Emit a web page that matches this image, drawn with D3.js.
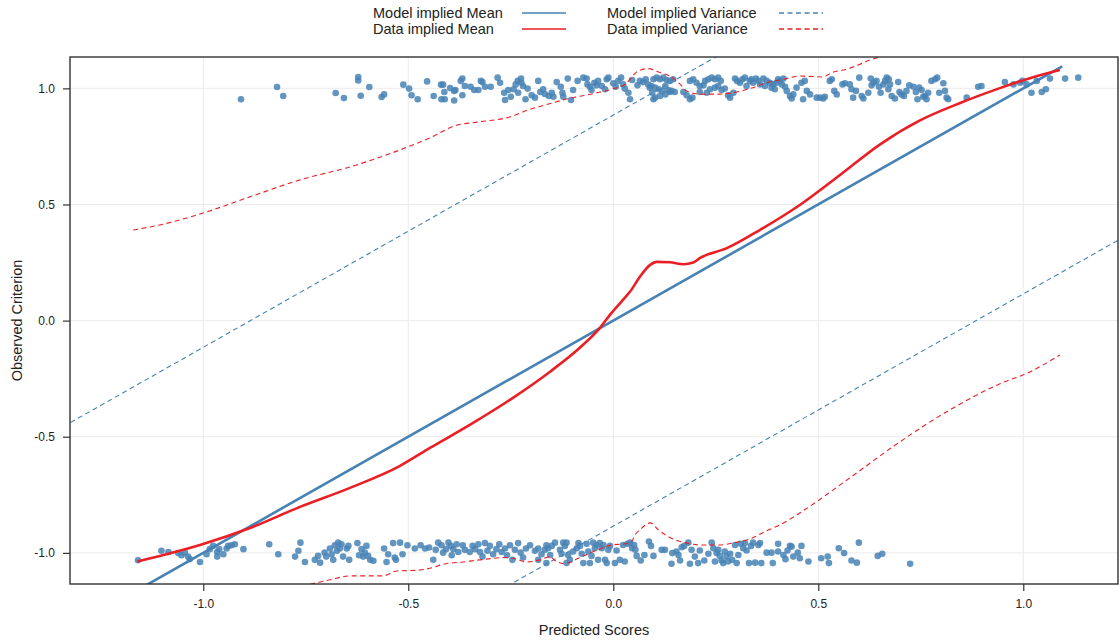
<!DOCTYPE html>
<html>
<head>
<meta charset="utf-8">
<script src="https://cdn.jsdelivr.net/npm/d3@7"></script>
<style>
  html, body { margin: 0; padding: 0; background: #fff; }
  svg { display: block; font-family: "Liberation Sans", Arial, sans-serif; }
</style>
</head>
<body>
<svg id="chart" width="1119" height="640"></svg>
<script>
// ---- observations (predicted score, observed criterion) ----
const upperPred = [-0.908,-0.820,-0.805,-0.677,-0.657,-0.622,-0.622,-0.616,-0.595,-0.565,-0.559,-0.512,-0.498,-0.492,-0.477,-0.454,-0.438,-0.420,-0.415,-0.412,-0.419,-0.411,-0.398,-0.388,-0.385,-0.388,-0.368,-0.372,-0.368,-0.362,-0.348,-0.339,-0.329,-0.323,-0.319,-0.313,-0.299,-0.282,-0.276,-0.266,-0.264,-0.256,-0.250,-0.243,-0.238,-0.233,-0.225,-0.224,-0.220,-0.232,-0.214,-0.209,-0.199,-0.191,-0.183,-0.178,-0.171,-0.167,-0.157,-0.150,-0.146,-0.138,-0.128,-0.124,-0.122,-0.111,-0.103,-0.098,-0.087,-0.073,-0.065,-0.063,-0.057,-0.053,-0.046,-0.041,-0.037,-0.028,-0.020,-0.016,-0.012,0.000,0.006,0.012,0.019,0.024,0.028,0.037,0.041,0.046,0.059,0.065,0.073,0.079,0.085,0.089,0.095,0.098,
  0.098,0.106,0.114,0.122,0.130,0.138,0.146,0.093,0.102,0.111,0.119,0.127,0.134,0.142,0.150,0.102,0.114,0.127,0.138,0.171,0.179,0.187,0.193,0.187,0.195,0.203,0.211,0.220,0.224,0.232,0.240,0.248,0.256,0.262,0.211,0.228,0.236,0.248,0.256,0.264,0.272,0.280,0.285,0.293,0.297,0.302,0.309,0.315,0.321,0.325,0.333,0.337,0.341,0.348,0.354,0.358,0.366,0.370,0.374,0.382,0.386,0.390,0.394,0.398,0.402,0.407,0.411,0.415,0.419,0.423,0.431,0.435,0.439,0.447,0.459,0.467,0.472,0.480,0.463,0.496,0.504,0.512,0.516,0.528,0.533,0.539,0.545,0.559,0.565,0.577,0.581,0.585,0.592,0.600,0.606,0.610,0.622,0.628,0.630,0.635,0.642,0.648,0.652,0.659,0.663,0.667,0.671,0.675,0.672,0.679,0.687,0.695,0.698,0.703,0.709,0.715,0.722,0.732,0.738,0.742,0.746,0.752,0.756,0.760,0.764,0.768,0.776,0.785,0.790,0.795,0.805,0.809,0.813,0.817,0.862,0.890,0.898,0.955,0.976,0.992,0.998,1.008,1.020,1.033,1.045,1.055,1.065,1.102,1.134];
const upperObs = [0.953,1.006,0.967,0.980,0.958,1.049,1.034,0.968,1.006,0.963,0.974,1.016,0.999,0.970,0.953,1.030,0.967,1.016,1.016,0.984,0.953,0.953,1.001,0.989,0.993,0.948,1.042,1.032,0.970,1.010,1.007,0.993,0.993,1.032,1.027,1.007,1.007,1.046,1.024,0.981,0.950,0.993,0.964,0.996,1.017,1.032,1.042,1.024,1.010,0.981,0.953,0.999,0.970,0.960,1.032,0.984,0.996,0.976,0.967,0.981,0.964,1.027,1.007,0.981,0.964,1.042,0.950,0.993,1.032,1.046,1.042,1.017,1.007,0.993,1.024,1.013,1.032,1.010,0.996,1.039,1.046,1.022,1.007,1.032,1.046,1.017,0.999,0.981,0.953,1.036,1.013,1.032,1.027,1.039,1.017,1.003,0.981,0.953,
  1.039,1.046,1.039,1.046,1.036,1.032,1.039,1.010,1.003,0.996,0.989,1.010,0.993,0.989,0.984,0.960,0.967,0.974,0.984,0.984,0.970,0.953,0.960,1.032,1.039,1.024,1.010,1.013,1.032,1.039,1.046,1.039,1.046,1.032,0.984,0.981,0.996,1.003,1.010,0.993,0.999,0.970,0.960,0.981,1.042,1.032,1.024,1.039,1.046,1.010,1.032,1.039,1.024,1.042,1.032,1.017,1.042,1.010,1.032,1.024,1.003,1.017,0.996,1.024,1.039,1.032,1.017,1.042,1.007,0.989,0.967,0.956,0.974,1.003,1.024,1.032,0.989,0.974,0.953,0.960,0.960,0.956,0.964,1.032,1.039,0.989,0.974,1.017,1.022,1.017,0.996,0.960,0.989,1.046,0.967,0.956,0.981,1.042,1.013,1.024,1.032,1.007,0.981,1.017,1.032,1.046,0.996,1.017,1.039,0.967,0.956,1.027,0.984,0.974,0.967,0.989,1.013,1.007,0.984,0.953,1.003,0.993,0.964,0.967,0.953,0.981,1.032,1.039,1.046,0.981,1.022,0.989,0.960,0.953,0.960,1.007,1.010,1.027,1.017,1.024,1.032,1.017,0.981,1.032,0.984,0.996,1.042,1.042,1.046];

const lowerPred = [-1.159,-1.102,-1.085,-1.061,-1.053,-1.045,-1.037,-1.033,-1.008,-0.992,-0.984,-0.976,-0.966,-0.961,-0.966,-0.951,-0.943,-0.939,-0.931,-0.923,-0.902,-0.839,-0.817,-0.776,-0.768,-0.763,-0.752,-0.728,-0.720,-0.715,-0.704,-0.700,-0.691,-0.687,-0.683,-0.679,-0.674,-0.671,-0.667,-0.663,-0.659,-0.650,-0.646,-0.644,-0.624,-0.620,-0.614,-0.610,-0.606,-0.602,-0.598,-0.593,-0.585,-0.559,-0.553,-0.549,-0.537,-0.533,-0.530,-0.520,-0.514,-0.502,-0.484,-0.470,-0.459,-0.449,-0.439,-0.433,-0.427,-0.419,-0.415,-0.408,-0.402,-0.396,-0.394,-0.390,-0.382,-0.378,-0.367,-0.362,-0.350,-0.343,-0.337,-0.329,-0.325,-0.319,-0.313,-0.307,-0.301,-0.293,-0.285,-0.278,-0.272,-0.264,-0.259,-0.252,-0.246,-0.240,-0.232,-0.226,-0.220,-0.213,-0.203,-0.191,-0.183,-0.175,-0.167,-0.183,-0.163,
  -0.159,-0.150,-0.142,-0.154,-0.163,-0.130,-0.122,-0.118,-0.114,-0.126,-0.110,-0.106,-0.114,-0.098,-0.089,-0.085,-0.081,-0.077,-0.073,-0.065,-0.061,-0.057,-0.053,-0.049,-0.045,-0.041,-0.037,-0.033,-0.028,-0.024,-0.020,-0.016,-0.012,-0.008,0.004,0.008,0.016,0.024,0.028,0.035,0.041,0.046,0.051,0.054,0.057,0.067,0.076,0.087,0.092,0.098,0.118,0.126,0.142,0.144,0.154,0.159,0.163,0.167,0.173,0.183,0.187,0.191,0.199,0.207,0.211,0.222,0.232,0.240,0.244,0.248,0.252,0.256,0.260,0.264,0.268,0.272,0.276,0.280,0.285,0.290,0.297,0.301,0.305,0.311,0.317,0.321,0.325,0.331,0.336,0.341,0.346,0.354,0.358,0.361,0.374,0.386,0.389,0.402,0.402,0.415,0.420,0.425,0.431,0.435,0.439,0.450,0.455,0.459,0.476,0.507,0.523,0.526,0.550,0.563,0.581,0.594,0.599,0.645,0.656,0.724];
const lowerObs = [-1.032,-0.991,-0.996,-1.001,-1.010,-0.999,-1.016,-1.027,-1.039,-1.006,-0.984,-0.970,-0.996,-0.984,-1.016,-1.006,-0.981,-0.970,-0.967,-0.963,-0.984,-0.963,-1.006,-1.016,-0.991,-0.956,-1.039,-1.030,-1.013,-1.042,-0.999,-1.016,-0.981,-1.006,-1.030,-0.967,-0.991,-0.956,-0.981,-0.963,-1.016,-0.981,-0.970,-1.030,-0.958,-1.010,-0.984,-1.016,-0.999,-0.970,-1.013,-1.030,-1.034,-0.981,-1.039,-1.006,-0.958,-1.020,-1.030,-0.956,-1.006,-0.967,-0.981,-0.967,-0.981,-0.977,-1.030,-0.987,-0.956,-0.967,-0.999,-0.984,-0.956,-0.970,-1.010,-0.984,-0.963,-0.996,-0.967,-0.987,-0.996,-0.970,-0.984,-0.963,-0.996,-1.016,-0.958,-0.991,-0.970,-1.006,-0.984,-0.963,-0.996,-0.981,-1.010,-0.967,-1.030,-0.987,-0.958,-0.999,-1.020,-0.981,-0.967,-0.991,-0.981,-1.006,-0.987,-1.030,-0.967,
  -0.980,-0.970,-0.956,-1.009,-1.044,-0.987,-0.956,-0.970,-0.956,-1.004,-1.009,-1.030,-1.044,-0.994,-0.980,-0.958,-0.970,-1.004,-1.044,-0.961,-0.994,-1.044,-1.013,-0.956,-0.980,-0.966,-1.030,-0.958,-0.980,-0.966,-1.030,-1.044,-0.987,-0.970,-1.044,-0.990,-1.030,-0.966,-1.037,-0.961,-0.956,-0.980,-0.966,-0.987,-1.013,-1.033,-1.009,-0.951,-0.970,-1.013,-0.987,-0.987,-1.047,-1.001,-0.994,-1.009,-1.033,-0.976,-0.970,-0.956,-1.047,-0.987,-1.016,-1.044,-0.990,-1.033,-1.004,-0.956,-0.980,-1.037,-1.001,-0.987,-1.013,-1.033,-1.044,-0.994,-1.016,-1.037,-1.004,-1.030,-0.966,-1.044,-1.009,-0.961,-0.980,-0.958,-0.990,-1.044,-0.970,-0.956,-1.042,-0.966,-0.958,-1.044,-0.999,-0.999,-1.044,-0.961,-0.994,-1.009,-1.027,-0.990,-0.970,-0.973,-1.016,-0.999,-1.023,-0.970,-1.037,-1.023,-1.016,-1.044,-0.980,-1.001,-1.033,-1.042,-0.956,-1.013,-1.004,-1.047];

// ---- model implied mean and variance band ----
const modelPred  = [-1.16, 1.095];
const modelMean  = [-1.16, 1.095];
const bandPred   = [-1.45, 1.35];
const modelUpper = [-0.565, 2.235];
const modelLower = [-2.335, 0.465];

// ---- data implied (smoothed) mean ----
const dataMeanPred = [-1.161,-1.106,-1.008,-0.886,-0.764,-0.642,-0.520,-0.447,-0.350,-0.252,-0.155,-0.081,-0.032,-0.008,0.020,0.041,0.065,0.090,0.106,0.138,0.171,0.195,0.211,0.277,0.358,0.455,0.553,0.650,0.748,0.846,0.943,1.016,1.089];
const dataMean     = [-1.037,-1.013,-0.966,-0.893,-0.802,-0.720,-0.625,-0.548,-0.449,-0.341,-0.221,-0.116,-0.030,0.025,0.082,0.125,0.189,0.240,0.253,0.251,0.243,0.250,0.269,0.312,0.391,0.498,0.627,0.758,0.862,0.937,1.001,1.044,1.079];

// ---- data implied variance band ----
const dataUpperPred = [-1.171,-1.106,-1.008,-0.886,-0.764,-0.642,-0.520,-0.447,-0.386,-0.325,-0.252,-0.203,-0.167,-0.094,-0.069,-0.045,-0.004,0.029,0.061,0.085,0.114,0.138,0.163,0.179,0.211,0.252,0.293,0.333,0.374,0.415,0.455,0.512,0.533,0.561,0.585,0.626,0.680];
const dataUpper     = [0.390,0.412,0.459,0.533,0.606,0.662,0.735,0.787,0.839,0.856,0.877,0.910,0.928,0.962,0.970,0.979,0.996,1.018,1.075,1.085,1.068,1.053,1.018,0.989,0.975,0.975,0.981,0.999,1.024,1.039,1.053,1.049,1.068,1.079,1.092,1.122,1.150];
const dataLowerPred = [-0.780,-0.735,-0.691,-0.642,-0.562,-0.528,-0.480,-0.439,-0.415,-0.366,-0.325,-0.260,-0.236,-0.211,-0.179,-0.154,-0.142,-0.118,-0.093,-0.061,-0.028,-0.004,0.029,0.045,0.053,0.065,0.090,0.110,0.134,0.175,0.216,0.256,0.297,0.338,0.370,0.407,0.455,0.577,0.699,0.821,0.943,1.016,1.089];
const dataLower     = [-1.150,-1.133,-1.116,-1.099,-1.099,-1.078,-1.075,-1.063,-1.049,-1.039,-1.030,-1.020,-1.027,-1.039,-1.030,-1.016,-1.033,-1.047,-1.030,-1.004,-0.980,-0.966,-0.961,-0.951,-0.923,-0.901,-0.871,-0.901,-0.930,-0.956,-0.966,-0.966,-0.956,-0.937,-0.908,-0.879,-0.828,-0.677,-0.522,-0.384,-0.272,-0.221,-0.148];

// ---- axes ----
const xTicks = [-1.0, -0.5, 0.0, 0.5, 1.0];
const yTicks = [-1.0, -0.5, 0.0, 0.5, 1.0];

const blue = "#4682b4";
const red = "#ea1f25";

const svg = d3.select("#chart");
const panel = { left: 70, right: 1118, top: 57, bottom: 584 };

const x = d3.scaleLinear().domain([-1.325, 1.231]).range([panel.left, panel.right]);
const y = d3.scaleLinear().domain([-1.134, 1.135]).range([panel.bottom, panel.top]);

svg.append("defs").append("clipPath").attr("id", "panel-clip")
  .append("rect")
  .attr("x", panel.left).attr("y", panel.top)
  .attr("width", panel.right - panel.left).attr("height", panel.bottom - panel.top);

// grid
const grid = svg.append("g").attr("stroke", "#ebebeb").attr("stroke-width", 1);
grid.selectAll("line.vx").data(xTicks).join("line")
  .attr("x1", d => x(d)).attr("x2", d => x(d))
  .attr("y1", panel.top).attr("y2", panel.bottom);
grid.selectAll("line.hy").data(yTicks).join("line")
  .attr("y1", d => y(d)).attr("y2", d => y(d))
  .attr("x1", panel.left).attr("x2", panel.right);

const plot = svg.append("g").attr("clip-path", "url(#panel-clip)");

// observations
const pts = upperPred.map((p, i) => [p, upperObs[i]])
  .concat(lowerPred.map((p, i) => [p, lowerObs[i]]));
plot.append("g").selectAll("circle").data(pts).join("circle")
  .attr("cx", d => x(d[0])).attr("cy", d => y(d[1]))
  .attr("r", 3.3)
  .attr("fill", blue).attr("fill-opacity", 0.85);

const zip = (a, b) => a.map((v, i) => [v, b[i]]);

function drawLine(data, color, width, dash, curve) {
  const gen = d3.line().x(d => x(d[0])).y(d => y(d[1])).curve(curve || d3.curveLinear);
  plot.append("path").datum(data)
    .attr("d", gen)
    .attr("fill", "none")
    .style("stroke", color)
    .attr("stroke-width", width)
    .attr("stroke-dasharray", dash || null)
    .attr("stroke-linejoin", "round");
}

drawLine(zip(bandPred, modelUpper), blue, 1.1, "5,3.5");
drawLine(zip(bandPred, modelLower), blue, 1.1, "5,3.5");
drawLine(zip(dataUpperPred, dataUpper), red, 1.1, "5,3.5", d3.curveMonotoneX);
drawLine(zip(dataLowerPred, dataLower), red, 1.1, "5,3.5", d3.curveMonotoneX);
drawLine(zip(modelPred, modelMean), blue, 2.6);
drawLine(zip(dataMeanPred, dataMean), red, 2.6, null, d3.curveMonotoneX);

// panel border
svg.append("rect")
  .attr("x", panel.left).attr("y", panel.top)
  .attr("width", panel.right - panel.left).attr("height", panel.bottom - panel.top)
  .attr("fill", "none").attr("stroke", "#333").attr("stroke-width", 1.4);

// axes
const xAxis = svg.append("g").attr("transform", `translate(0,${panel.bottom})`)
  .call(d3.axisBottom(x).tickValues(xTicks).tickSize(7).tickPadding(8));
const yAxis = svg.append("g").attr("transform", `translate(${panel.left},0)`)
  .call(d3.axisLeft(y).tickValues(yTicks).tickSize(7).tickPadding(8));
[xAxis, yAxis].forEach(g => {
  g.select(".domain").remove();
  g.selectAll(".tick line").attr("stroke", "#333").attr("stroke-width", 1.2);
  g.selectAll(".tick text").attr("fill", "#222").style("font-size", "12px")
    .style("font-family", "'Liberation Sans', Arial, sans-serif")
    .text(d => d3.format(".1f")(d).replace("\u2212", "-"));
});

// axis titles
svg.append("text")
  .attr("x", (panel.left + panel.right) / 2).attr("y", 635)
  .attr("text-anchor", "middle").attr("fill", "#222")
  .style("font-size", "14.5px")
  .text("Predicted Scores");
svg.append("text")
  .attr("transform", `translate(22,${(panel.top + panel.bottom) / 2}) rotate(-90)`)
  .attr("text-anchor", "middle").attr("fill", "#222")
  .style("font-size", "14.5px")
  .text("Observed Criterion");

// legend
const legendItems = [
  { label: "Model implied Mean", color: blue, dash: null, tx: 373, lx: 522, row: 0 },
  { label: "Data implied Mean", color: red, dash: null, tx: 373, lx: 522, row: 1 },
  { label: "Model implied Variance", color: blue, dash: "5,3.5", tx: 607, lx: 779, row: 0 },
  { label: "Data implied Variance", color: red, dash: "5,3.5", tx: 607, lx: 779, row: 1 }
];
const legend = svg.append("g");
legendItems.forEach(it => {
  const cy = 13 + it.row * 16;
  legend.append("text")
    .attr("x", it.tx).attr("y", cy + 5)
    .attr("fill", "#222").style("font-size", "14.5px")
    .text(it.label);
  legend.append("line")
    .attr("x1", it.lx).attr("x2", it.lx + 44)
    .attr("y1", cy).attr("y2", cy)
    .style("stroke", it.color)
    .style("stroke-width", "1.6px")
    .style("stroke-dasharray", it.dash || "none");
});
</script>
</body>
</html>
